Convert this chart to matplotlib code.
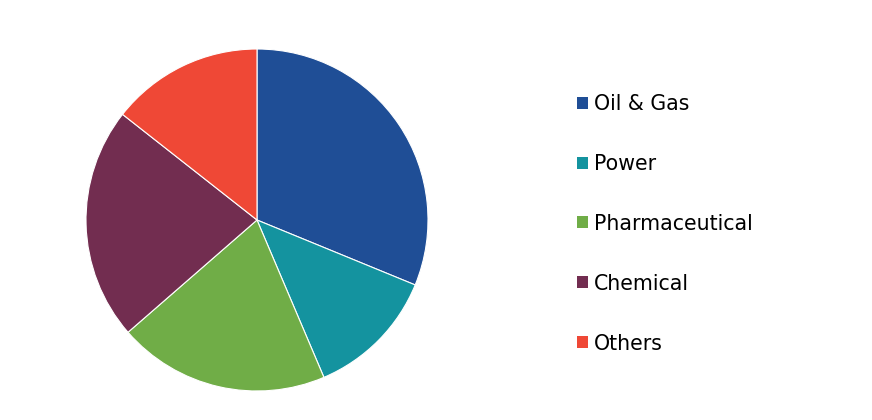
import matplotlib
matplotlib.use("Agg")
import matplotlib.pyplot as plt
from matplotlib.patches import Patch

segmentos = ["Oil & Gas", "Power", "Pharmaceutical", "Chemical", "Others"]
participacao = [31.2, 12.4, 20.0, 22.0, 14.4]
cores = ["#1F4E96", "#14939F", "#70AD47", "#722D50", "#EF4836"]

fig = plt.figure(figsize=(8.72, 4.2), dpi=100)
fig.patch.set_facecolor("white")

raio_px = 171
cx, cy = 257, 220
ax = fig.add_axes([(cx - raio_px) / 872, (420 - cy - raio_px) / 420,
                   2 * raio_px / 872, 2 * raio_px / 420])
ax.pie(participacao, colors=cores, startangle=90, counterclock=False,
       wedgeprops={"edgecolor": "white", "linewidth": 0.8})
ax.set_xlim(-1, 1)
ax.set_ylim(-1, 1)
ax.set_aspect("equal")
ax.axis("off")

handles = [Patch(facecolor=c, edgecolor="none") for c in cores]
fig.legend(handles, segmentos, loc="upper left",
           bbox_to_anchor=(577 / 872, 1 - 94 / 420),
           frameon=False, handlelength=0.52, handleheight=0.52,
           handletextpad=0.3, labelspacing=1.94, borderpad=0, borderaxespad=0,
           prop={"family": "DejaVu Sans", "size": 14.8})

fig.savefig("out.png", dpi=100, facecolor="white")
